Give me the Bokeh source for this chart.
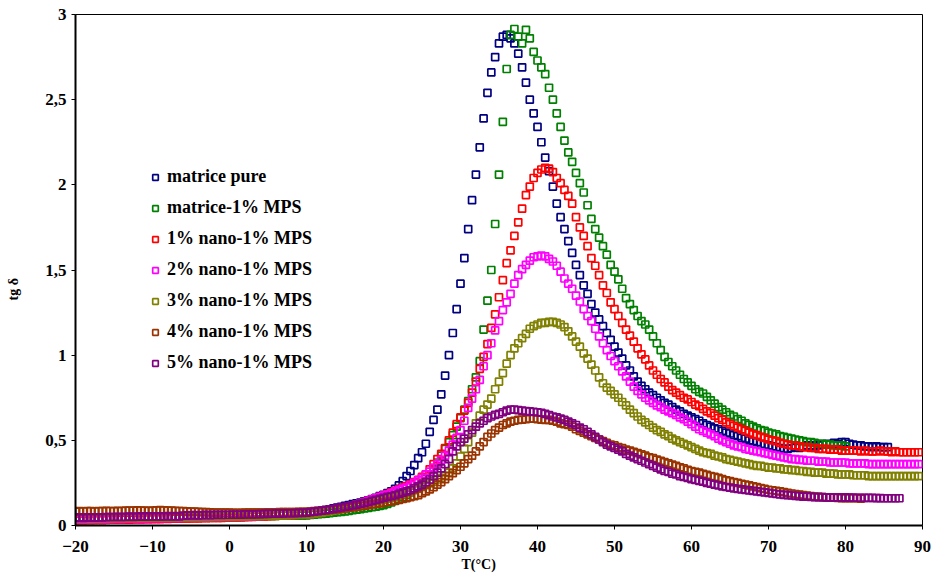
import numpy as np
from bokeh.plotting import figure
from bokeh.models import (Range1d, FixedTicker, CustomJSTickFormatter, Legend,
                          LegendItem, Title)
from bokeh.embed import file_html
from bokeh.resources import INLINE

FONT = "Liberation Serif"

# Temperature sampling: every series starts at -20 °C with a 0.5 °C step
T_START = -20.0
T_STEP = 0.5

SERIES_NAMES = ["matrice pure", "matrice-1% MPS", "1% nano-1% MPS", "2% nano-1% MPS",
                "3% nano-1% MPS", "4% nano-1% MPS", "5% nano-1% MPS"]
SERIES_COLORS = ["#000080", "#008000", "#FF0000", "#FF00FF", "#808000", "#993300", "#800080"]

X_TICKS = [-20, -10, 0, 10, 20, 30, 40, 50, 60, 70, 80, 90]
Y_TICKS = [0, 0.5, 1, 1.5, 2, 2.5, 3]

matrice_pure = [
    0.045, 0.047, 0.046, 0.045, 0.047, 0.046, 0.045, 0.046, 0.047, 0.046,
    0.046, 0.047, 0.046, 0.048, 0.047, 0.046, 0.048, 0.049, 0.048, 0.047,
    0.048, 0.05, 0.049, 0.05, 0.051, 0.05, 0.049, 0.051, 0.052, 0.05,
    0.051, 0.052, 0.053, 0.052, 0.053, 0.054, 0.053, 0.055, 0.054, 0.055,
    0.055, 0.056, 0.057, 0.056, 0.058, 0.059, 0.058, 0.06, 0.061, 0.062,
    0.063, 0.064, 0.065, 0.066, 0.067, 0.068, 0.069, 0.07, 0.072, 0.073,
    0.075, 0.078, 0.08, 0.083, 0.087, 0.09, 0.095, 0.1, 0.105, 0.11,
    0.115, 0.12, 0.125, 0.13, 0.135, 0.142, 0.148, 0.155, 0.163, 0.172,
    0.18, 0.19, 0.2, 0.215, 0.235, 0.26, 0.29, 0.32, 0.355, 0.395,
    0.43, 0.48, 0.55, 0.62, 0.68, 0.77, 0.88, 1.0, 1.13, 1.27,
    1.42, 1.57, 1.74, 1.91, 2.06, 2.22, 2.39, 2.54, 2.66, 2.75,
    2.83, 2.87, 2.88, 2.86, 2.83, 2.77, 2.69, 2.60, 2.50, 2.42,
    2.34, 2.25, 2.16, 2.08, 1.99, 1.89, 1.81, 1.74, 1.67, 1.60,
    1.53, 1.47, 1.41, 1.36, 1.30, 1.25, 1.21, 1.17, 1.13, 1.09,
    1.05, 1.015, 0.98, 0.94, 0.91, 0.875, 0.845, 0.82, 0.80, 0.78,
    0.765, 0.75, 0.735, 0.72, 0.71, 0.695, 0.68, 0.67, 0.655, 0.645,
    0.635, 0.625, 0.615, 0.60, 0.59, 0.58, 0.57, 0.565, 0.555, 0.545,
    0.54, 0.53, 0.525, 0.515, 0.51, 0.50, 0.495, 0.49, 0.48, 0.475,
    0.47, 0.465, 0.46, 0.455, 0.45, 0.45, 0.455, 0.46, 0.455, 0.465,
    0.47, 0.47, 0.465, 0.47, 0.475, 0.48, 0.475, 0.485, 0.48, 0.49,
    0.49, 0.48, 0.475, 0.47, 0.47, 0.465, 0.465, 0.46, 0.465, 0.46,
    0.46, 0.46,
]

matrice_1_mps = [
    0.040, 0.041, 0.040, 0.042, 0.041, 0.040, 0.042, 0.041, 0.042, 0.043,
    0.042, 0.043, 0.042, 0.044, 0.043, 0.044, 0.045, 0.044, 0.045, 0.044,
    0.045, 0.046, 0.045, 0.046, 0.047, 0.046, 0.047, 0.048, 0.047, 0.048,
    0.048, 0.049, 0.048, 0.05, 0.049, 0.05, 0.051, 0.05, 0.051, 0.052,
    0.051, 0.052, 0.053, 0.052, 0.053, 0.054, 0.054, 0.055, 0.055, 0.056,
    0.056, 0.057, 0.057, 0.058, 0.058, 0.059, 0.059, 0.06, 0.06, 0.06,
    0.06, 0.062, 0.064, 0.066, 0.068, 0.07, 0.072, 0.075, 0.078, 0.08,
    0.083, 0.086, 0.09, 0.093, 0.096, 0.1, 0.103, 0.107, 0.11, 0.115,
    0.12, 0.127, 0.135, 0.145, 0.155, 0.167, 0.18, 0.195, 0.21, 0.23,
    0.25, 0.275, 0.30, 0.33, 0.37, 0.41, 0.45, 0.49, 0.53, 0.58,
    0.63, 0.68, 0.73, 0.80, 0.87, 0.965, 1.15, 1.32, 1.50, 1.77,
    2.06, 2.37, 2.68, 2.88, 2.915, 2.87, 2.83, 2.91, 2.86, 2.78,
    2.73, 2.69, 2.65, 2.57, 2.50, 2.42, 2.34, 2.26, 2.19, 2.135,
    2.07, 2.01, 1.955, 1.88, 1.80, 1.74, 1.69, 1.64, 1.59, 1.53,
    1.49, 1.445, 1.39, 1.335, 1.30, 1.265, 1.23, 1.20, 1.18, 1.15,
    1.11, 1.07, 1.03, 0.99, 0.96, 0.935, 0.91, 0.885, 0.86, 0.84,
    0.82, 0.80, 0.785, 0.775, 0.755, 0.735, 0.715, 0.695, 0.68, 0.665,
    0.65, 0.64, 0.625, 0.615, 0.60, 0.59, 0.58, 0.57, 0.56, 0.555,
    0.545, 0.54, 0.535, 0.525, 0.52, 0.515, 0.51, 0.505, 0.50, 0.495,
    0.49, 0.49, 0.485, 0.48, 0.48, 0.475, 0.475, 0.47, 0.47, 0.47,
    0.465,
]

nano1 = [
    0.030, 0.031, 0.030, 0.032, 0.031, 0.032, 0.033, 0.032, 0.033, 0.034,
    0.034, 0.035, 0.034, 0.036, 0.035, 0.036, 0.037, 0.036, 0.037, 0.038,
    0.038, 0.039, 0.038, 0.04, 0.039, 0.04, 0.041, 0.04, 0.041, 0.042,
    0.042, 0.043, 0.042, 0.044, 0.043, 0.044, 0.045, 0.044, 0.045, 0.046,
    0.046, 0.047, 0.048, 0.047, 0.049, 0.05, 0.051, 0.052, 0.053, 0.054,
    0.055, 0.056, 0.057, 0.058, 0.059, 0.06, 0.061, 0.062, 0.063, 0.064,
    0.065, 0.068, 0.072, 0.076, 0.08, 0.084, 0.088, 0.092, 0.097, 0.102,
    0.107, 0.112, 0.118, 0.124, 0.13, 0.137, 0.145, 0.152, 0.16, 0.168,
    0.176, 0.185, 0.194, 0.204, 0.212, 0.222, 0.232, 0.243, 0.255, 0.268,
    0.285, 0.30, 0.33, 0.36, 0.39, 0.42, 0.455, 0.50, 0.545, 0.595,
    0.635, 0.675, 0.72, 0.78, 0.845, 0.92, 0.99, 1.065, 1.16, 1.24,
    1.34, 1.44, 1.54, 1.615, 1.70, 1.78, 1.86, 1.94, 1.99, 2.04,
    2.07, 2.09, 2.10, 2.095, 2.075, 2.04, 2.01, 1.97, 1.935, 1.89,
    1.81, 1.75, 1.70, 1.64, 1.57, 1.525, 1.47, 1.41, 1.365, 1.31,
    1.27, 1.23, 1.19, 1.15, 1.115, 1.08, 1.04, 1.005, 0.975, 0.94,
    0.91, 0.885, 0.86, 0.84, 0.815, 0.795, 0.78, 0.765, 0.75, 0.74,
    0.725, 0.71, 0.70, 0.685, 0.67, 0.66, 0.645, 0.63, 0.62, 0.605,
    0.595, 0.585, 0.575, 0.565, 0.555, 0.545, 0.535, 0.53, 0.52, 0.515,
    0.505, 0.50, 0.495, 0.485, 0.48, 0.475, 0.47, 0.47, 0.465, 0.46,
    0.46, 0.455, 0.455, 0.45, 0.45, 0.45, 0.445, 0.445, 0.445, 0.44,
    0.44, 0.44, 0.44, 0.44, 0.435, 0.44, 0.435, 0.435, 0.435, 0.44,
    0.435, 0.435, 0.43, 0.435, 0.43, 0.43, 0.43, 0.43, 0.43, 0.43,
]

nano2 = [
    0.035, 0.036, 0.035, 0.037, 0.036, 0.037, 0.038, 0.037, 0.038, 0.039,
    0.039, 0.04, 0.039, 0.041, 0.04, 0.041, 0.042, 0.041, 0.042, 0.043,
    0.043, 0.044, 0.043, 0.045, 0.044, 0.045, 0.046, 0.045, 0.046, 0.047,
    0.047, 0.048, 0.047, 0.049, 0.048, 0.049, 0.05, 0.049, 0.05, 0.051,
    0.05, 0.051, 0.052, 0.051, 0.053, 0.054, 0.055, 0.056, 0.057, 0.058,
    0.058, 0.059, 0.06, 0.06, 0.061, 0.062, 0.062, 0.063, 0.064, 0.064,
    0.065, 0.068, 0.072, 0.076, 0.08, 0.084, 0.088, 0.092, 0.097, 0.102,
    0.107, 0.112, 0.117, 0.123, 0.13, 0.137, 0.145, 0.152, 0.16, 0.167,
    0.175, 0.182, 0.19, 0.20, 0.208, 0.216, 0.224, 0.237, 0.25, 0.265,
    0.28, 0.30, 0.316, 0.34, 0.36, 0.385, 0.41, 0.44, 0.475, 0.515,
    0.56, 0.615, 0.69, 0.745, 0.80, 0.855, 0.935, 1.0, 1.07, 1.145,
    1.20, 1.265, 1.31, 1.36, 1.42, 1.47, 1.505, 1.53, 1.555, 1.575,
    1.58, 1.585, 1.58, 1.565, 1.55, 1.525, 1.49, 1.45, 1.42, 1.39,
    1.35, 1.315, 1.27, 1.23, 1.20, 1.155, 1.11, 1.07, 1.03, 0.995,
    0.965, 0.935, 0.905, 0.875, 0.845, 0.815, 0.79, 0.77, 0.75, 0.735,
    0.72, 0.705, 0.695, 0.68, 0.67, 0.66, 0.65, 0.635, 0.625, 0.61,
    0.595, 0.58, 0.565, 0.555, 0.545, 0.535, 0.525, 0.51, 0.50, 0.49,
    0.48, 0.47, 0.465, 0.46, 0.45, 0.445, 0.44, 0.435, 0.43, 0.425,
    0.42, 0.415, 0.41, 0.405, 0.40, 0.395, 0.39, 0.39, 0.385, 0.385,
    0.38, 0.38, 0.38, 0.375, 0.375, 0.375, 0.37, 0.37, 0.37, 0.37,
    0.37, 0.365, 0.365, 0.365, 0.365, 0.365, 0.36, 0.36, 0.36, 0.36,
    0.36, 0.36, 0.36, 0.36, 0.36, 0.36, 0.36, 0.36, 0.36, 0.36,
]

nano3 = [
    0.040, 0.041, 0.042, 0.041, 0.042, 0.043, 0.042, 0.043, 0.044, 0.043,
    0.044, 0.045, 0.044, 0.045, 0.046, 0.045, 0.046, 0.047, 0.046, 0.047,
    0.047, 0.048, 0.047, 0.048, 0.049, 0.048, 0.049, 0.05, 0.049, 0.05,
    0.05, 0.051, 0.05, 0.051, 0.052, 0.051, 0.052, 0.053, 0.052, 0.053,
    0.053, 0.054, 0.054, 0.055, 0.055, 0.056, 0.056, 0.057, 0.057, 0.058,
    0.058, 0.059, 0.059, 0.06, 0.06, 0.061, 0.062, 0.062, 0.063, 0.064,
    0.065, 0.067, 0.07, 0.073, 0.076, 0.08, 0.084, 0.088, 0.092, 0.096,
    0.10, 0.105, 0.11, 0.116, 0.122, 0.128, 0.134, 0.138, 0.142, 0.147,
    0.152, 0.157, 0.162, 0.168, 0.175, 0.183, 0.19, 0.198, 0.207, 0.217,
    0.227, 0.237, 0.247, 0.256, 0.27, 0.28, 0.292, 0.31, 0.335, 0.365,
    0.405, 0.45, 0.49, 0.545, 0.60, 0.645, 0.68, 0.71, 0.745, 0.80,
    0.845, 0.895, 0.95, 1.0, 1.04, 1.07, 1.10, 1.125, 1.155, 1.17,
    1.18, 1.19, 1.19, 1.195, 1.195, 1.19, 1.18, 1.165, 1.14, 1.11,
    1.08, 1.05, 1.01, 0.98, 0.945, 0.91, 0.87, 0.835, 0.81, 0.79,
    0.77, 0.75, 0.725, 0.705, 0.68, 0.66, 0.64, 0.62, 0.605, 0.59,
    0.575, 0.56, 0.55, 0.535, 0.525, 0.51, 0.50, 0.49, 0.48, 0.47,
    0.46, 0.45, 0.44, 0.43, 0.425, 0.42, 0.41, 0.405, 0.40, 0.39,
    0.385, 0.38, 0.375, 0.37, 0.365, 0.36, 0.355, 0.35, 0.35, 0.345,
    0.34, 0.34, 0.335, 0.335, 0.33, 0.33, 0.325, 0.325, 0.32, 0.32,
    0.315, 0.315, 0.31, 0.31, 0.31, 0.305, 0.305, 0.305, 0.30, 0.30,
    0.30, 0.30, 0.295, 0.295, 0.295, 0.295, 0.29, 0.29, 0.29, 0.29,
    0.29, 0.29, 0.29, 0.29, 0.29, 0.29, 0.29, 0.29, 0.29, 0.29,
]

nano4 = [
    0.082, 0.084, 0.083, 0.085, 0.084, 0.083, 0.085, 0.084, 0.086, 0.085,
    0.084, 0.086, 0.085, 0.087, 0.088, 0.087, 0.089, 0.088, 0.087, 0.086,
    0.088, 0.089, 0.09, 0.089, 0.088, 0.087, 0.086, 0.085, 0.084, 0.083,
    0.082, 0.081, 0.08, 0.079, 0.078, 0.077, 0.076, 0.076, 0.075, 0.075,
    0.075, 0.074, 0.074, 0.074, 0.075, 0.075, 0.075, 0.076, 0.076, 0.076,
    0.077, 0.077, 0.077, 0.078, 0.078, 0.078, 0.079, 0.079, 0.08, 0.08,
    0.08, 0.082, 0.084, 0.086, 0.088, 0.09, 0.092, 0.094, 0.096, 0.098,
    0.10, 0.103, 0.106, 0.109, 0.112, 0.116, 0.12, 0.124, 0.127, 0.13,
    0.134, 0.138, 0.142, 0.146, 0.15, 0.156, 0.161, 0.167, 0.172, 0.178,
    0.19, 0.20, 0.212, 0.225, 0.24, 0.255, 0.272, 0.29, 0.307, 0.325,
    0.345, 0.365, 0.39, 0.41, 0.435, 0.465, 0.49, 0.52, 0.54, 0.56,
    0.575, 0.59, 0.60, 0.61, 0.615, 0.62, 0.622, 0.625, 0.628, 0.628,
    0.625, 0.622, 0.62, 0.62, 0.615, 0.61, 0.60, 0.595, 0.59, 0.58,
    0.565, 0.555, 0.545, 0.535, 0.525, 0.515, 0.505, 0.495, 0.485, 0.475,
    0.47, 0.46, 0.455, 0.445, 0.44, 0.432, 0.425, 0.418, 0.41, 0.40,
    0.395, 0.387, 0.38, 0.372, 0.365, 0.357, 0.35, 0.342, 0.335, 0.327,
    0.32, 0.315, 0.31, 0.303, 0.297, 0.29, 0.285, 0.28, 0.272, 0.265,
    0.26, 0.255, 0.25, 0.245, 0.24, 0.235, 0.23, 0.225, 0.22, 0.215,
    0.21, 0.207, 0.203, 0.20, 0.196, 0.192, 0.188, 0.185, 0.182, 0.178,
    0.175, 0.172, 0.17, 0.168, 0.166, 0.165, 0.164, 0.163, 0.162, 0.161,
    0.16, 0.16, 0.16, 0.16, 0.158,
]

nano5 = [
    0.045, 0.046, 0.045, 0.046, 0.047, 0.046, 0.047, 0.048, 0.049, 0.05,
    0.05, 0.051, 0.05, 0.051, 0.052, 0.051, 0.052, 0.053, 0.052, 0.053,
    0.053, 0.054, 0.053, 0.054, 0.055, 0.054, 0.055, 0.054, 0.058, 0.06,
    0.06, 0.061, 0.06, 0.061, 0.062, 0.061, 0.062, 0.063, 0.062, 0.063,
    0.063, 0.064, 0.063, 0.064, 0.065, 0.066, 0.065, 0.066, 0.067, 0.068,
    0.068, 0.069, 0.07, 0.07, 0.071, 0.072, 0.072, 0.073, 0.074, 0.074,
    0.075, 0.078, 0.081, 0.084, 0.087, 0.09, 0.094, 0.098, 0.102, 0.106,
    0.11, 0.114, 0.118, 0.123, 0.128, 0.133, 0.138, 0.144, 0.15, 0.156,
    0.162, 0.168, 0.172, 0.178, 0.185, 0.193, 0.20, 0.207, 0.22, 0.23,
    0.24, 0.255, 0.27, 0.29, 0.31, 0.335, 0.36, 0.39, 0.435, 0.465,
    0.49, 0.51, 0.535, 0.56, 0.58, 0.60, 0.615, 0.63, 0.64, 0.65,
    0.655, 0.665, 0.675, 0.68, 0.68, 0.677, 0.675, 0.672, 0.67, 0.667,
    0.665, 0.662, 0.655, 0.648, 0.64, 0.635, 0.628, 0.62, 0.61, 0.60,
    0.59, 0.575, 0.565, 0.55, 0.535, 0.52, 0.505, 0.49, 0.475, 0.465,
    0.455, 0.445, 0.435, 0.42, 0.41, 0.40, 0.39, 0.38, 0.37, 0.36,
    0.35, 0.34, 0.33, 0.32, 0.315, 0.305, 0.30, 0.29, 0.285, 0.28,
    0.272, 0.267, 0.262, 0.257, 0.25, 0.245, 0.24, 0.235, 0.23, 0.226,
    0.222, 0.218, 0.215, 0.212, 0.209, 0.206, 0.203, 0.20, 0.197, 0.194,
    0.191, 0.188, 0.185, 0.182, 0.18, 0.178, 0.176, 0.174, 0.172, 0.17,
    0.169, 0.168, 0.167, 0.166, 0.166, 0.165, 0.165, 0.165, 0.165, 0.165,
    0.165, 0.164, 0.164, 0.163, 0.163, 0.162, 0.162, 0.162, 0.161, 0.161,
    0.16, 0.16, 0.16, 0.16, 0.16,
]

SERIES_VALUES = [matrice_pure, matrice_1_mps, nano1, nano2, nano3, nano4, nano5]

p = figure(width=931, height=576, output_backend="svg", toolbar_location=None,
           x_range=Range1d(-20, 90), y_range=Range1d(0, 3),
           min_border_left=75, min_border_right=9, min_border_top=14,
           min_border_bottom=51)
p.background_fill_color = "white"
p.border_fill_color = "white"
p.outline_line_color = "black"
p.outline_line_width = 1
p.xgrid.visible = False
p.ygrid.visible = False

legend_items = []
for name, color, vals in zip(SERIES_NAMES, SERIES_COLORS, SERIES_VALUES):
    t = T_START + T_STEP * np.arange(len(vals))
    r = p.scatter(t, vals, marker="square", size=7, line_color=color,
                  line_width=1.7, fill_alpha=0)
    legend_items.append(LegendItem(label=name, renderers=[r]))

comma = CustomJSTickFormatter(code="return tick.toString().replace('.', ',');")
for ax in (p.xaxis[0], p.yaxis[0]):
    ax.axis_line_color = "black"
    ax.axis_line_width = 2
    ax.major_tick_line_color = "black"
    ax.major_tick_line_width = 1
    ax.major_tick_in = 0
    ax.major_tick_out = 4
    ax.minor_tick_line_color = None
    ax.major_label_text_font = FONT
    ax.major_label_text_font_style = "bold"
    ax.major_label_text_font_size = "17px"
    ax.major_label_text_color = "black"

p.xaxis[0].ticker = FixedTicker(ticks=X_TICKS)
p.yaxis[0].ticker = FixedTicker(ticks=Y_TICKS)
p.yaxis[0].formatter = comma
p.xaxis[0].major_label_standoff = 11
p.yaxis[0].major_label_standoff = 5

legend = Legend(items=legend_items, location=(73, 152), orientation="vertical",
                glyph_width=14, glyph_height=20, label_height=20, spacing=10,
                padding=0, margin=0, label_standoff=5,
                border_line_alpha=0, background_fill_alpha=0,
                label_text_font=FONT, label_text_font_style="bold",
                label_text_font_size="18px", label_text_color="black")
p.add_layout(legend)

x_title = Title(text="T(°C)", align="left", offset=386, standoff=0,
                text_font=FONT, text_font_style="bold", text_font_size="14px",
                text_color="black")
p.add_layout(x_title, "below")

# blank spacer panel between the tick labels and the y title
spacer = Title(text=" ", text_font=FONT, text_font_size="9px")
p.add_layout(spacer, "left")
y_title = Title(text="tg δ", align="left", offset=225, standoff=0,
                text_font=FONT, text_font_style="bold", text_font_size="14px",
                text_color="black")
p.add_layout(y_title, "left")

open("out.html", "w").write(file_html(p, INLINE))
